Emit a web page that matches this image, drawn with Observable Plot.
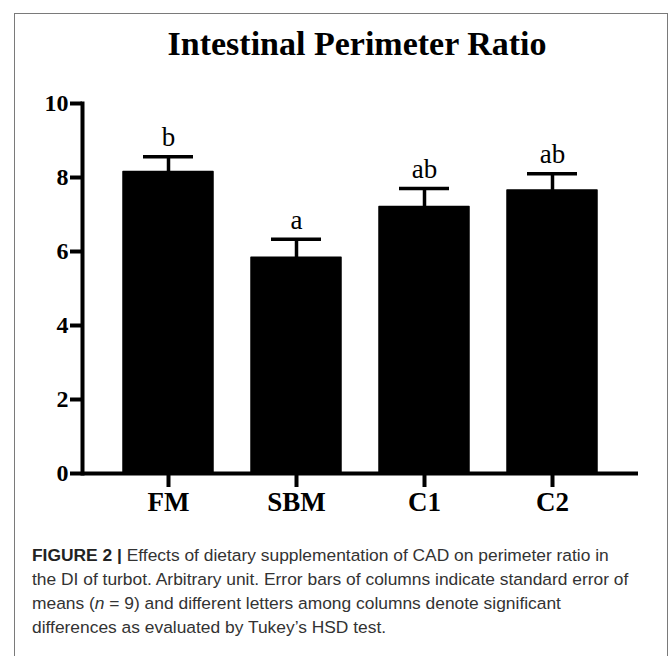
<!DOCTYPE html>
<html>
<head>
<meta charset="utf-8">
<script src="https://cdn.jsdelivr.net/npm/d3@7"></script>
<script src="https://cdn.jsdelivr.net/npm/@observablehq/plot@0.6"></script>
<style>
  html, body { margin: 0; padding: 0; background: #fff; }
  #wrap { position: relative; width: 670px; height: 656px; overflow: hidden; background: #fff; }
  #box { position: absolute; left: 14px; top: 13px; width: 654px; height: 700px; border: 1px solid #7a7a7a; box-sizing: border-box; pointer-events: none; }
  #title { box-sizing: border-box; height: 65px; padding-top: 27px; padding-left: 44px; text-align: center;
           font-family: "Liberation Serif", serif; font-weight: bold; font-size: 34px; line-height: 34px; color: #000; }
  #chart svg { display: block; }
  #caption { padding: 18px 0 0 32px; font-family: "Liberation Sans", Arial, sans-serif; font-size: 17.4px; line-height: 24px; color: #333; white-space: nowrap; }
  #caption b { color: #222; }
</style>
</head>
<body>
<div id="wrap">
  <div id="box"></div>
  <div id="title">Intestinal Perimeter Ratio</div>
  <div id="chart"></div>
  <div id="caption"><b>FIGURE 2 |</b> Effects of dietary supplementation of CAD on perimeter ratio in<br>the DI of turbot. Arbitrary unit. Error bars of columns indicate standard error of<br>means (<i>n</i> = 9) and different letters among columns denote significant<br>differences as evaluated by Tukey’s HSD test.</div>
</div>
<script>
const groups = ["FM", "SBM", "C1", "C2"];
const means = [8.15, 5.83, 7.20, 7.65];
const errors = [0.41, 0.50, 0.50, 0.45];
const letters = ["b", "a", "ab", "ab"];
const yTicks = [0, 2, 4, 6, 8, 10];

const data = groups.map((g, i) => ({g, m: means[i], se: errors[i], l: letters[i]}));

const chart = Plot.plot({
  width: 670,
  height: 460,
  marginLeft: 82,
  marginRight: 32,
  marginTop: 38,
  marginBottom: 52,
  style: {fontFamily: "Liberation Serif, serif", color: "#000", background: "transparent"},
  x: {domain: groups, paddingInner: 0.3, paddingOuter: 0.32},
  y: {domain: [0, 10]},
  marks: [
    Plot.barY(data, {x: "g", y: "m", fill: "#000", stroke: "#000", strokeWidth: 1.5, strokeLinejoin: "round"}),
    Plot.ruleX(data, {x: "g", y1: "m", y2: d => d.m + d.se, stroke: "#000", strokeWidth: 3.5}),
    Plot.tickY(data, {x: "g", y: d => d.m + d.se, stroke: "#000", strokeWidth: 3.5, inset: 20}),
    Plot.text(data, {x: "g", y: d => d.m + d.se, text: "l", dy: -19, fontSize: 27, fill: "#000"}),
    Plot.axisY({ticks: yTicks, tickSize: 12, strokeWidth: 4, tickPadding: 2, fontSize: 24, fontWeight: "bold", label: null}),
    Plot.axisX({tickSize: 14, strokeWidth: 4, tickPadding: 4, fontSize: 27, fontWeight: "bold", label: null}),
    Plot.frame({anchor: "left", stroke: "#000", strokeWidth: 4}),
    Plot.ruleY([0], {stroke: "#000", strokeWidth: 4})
  ]
});
document.getElementById("chart").appendChild(chart);
</script>
</body>
</html>
